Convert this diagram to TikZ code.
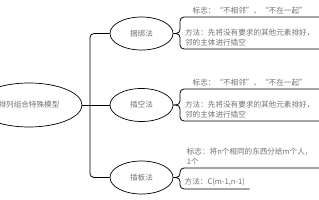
\documentclass[tikz,border=0pt]{standalone}
\usepackage{fontspec}
\setmainfont{Noto Sans CJK SC}
\usetikzlibrary{shapes.geometric, positioning}
\definecolor{txtgray}{RGB}{112,112,112}
\tikzset{
	topic/.style={ellipse, draw, line width=0.7pt, minimum width=63pt, minimum height=33pt, inner sep=0pt, text=txtgray, font=\fontsize{7.6}{10}\selectfont},
	note/.style={anchor=south west, align=left, inner xsep=4.5pt, inner ysep=3pt, minimum width=139pt, text=txtgray, font=\fontsize{7.6}{10}\selectfont},
	wire/.style={line width=0.8pt, rounded corners=4pt}
}

\begin{document}
\begin{tikzpicture}[x=1pt, y=-1pt]
	\useasboundingbox (0,0) rectangle (319,200);
	\clip (0,0) rectangle (319,200);
	% Topics:
	\node[topic, minimum width=106pt, minimum height=44pt] (root) at (29,105) {排列组合特殊模型};
	\node[topic] (bundle) at (141.5,33.5) {捆绑法};
	\node[topic] (gap) at (141.5,105) {插空法};
	\node[topic] (board) at (141.5,177.5) {插板法};
	\coordinate (hub) at (90,105);
	% Notes:
	\node[note] (bundle-sign) at (180,17) {标志：“不相邻”、“不在一起”};
	\node[note] (bundle-way) at (180,49) {方法：先将没有要求的其他元素排好，\\邻的主体进行插空};
	\node[note] (gap-sign) at (180,89) {标志：“不相邻”、“不在一起”};
	\node[note] (gap-way) at (180,121) {方法：先将没有要求的其他元素排好，\\邻的主体进行插空};
	\node[note] (board-sign) at (180,168) {标志：将n个相同的东西分给m个人，\\1个};
	\node[note, minimum width=0pt] (board-way) at (180,189) {方法：C(m-1,n-1)};
	% Wires:
	\draw[wire] (root.east) -- (gap.west);
	\draw[wire] (bundle.west) -| (hub) |- (board.west);
	\foreach \t in {bundle, gap, board}{
		\draw[wire] (\t.east) -| (\t-sign.south west) -- (\t-sign.south east);
		\draw[wire] (\t.east) -| (\t-way.south west) -- (\t-way.south east);
	}
\end{tikzpicture}
\end{document}
